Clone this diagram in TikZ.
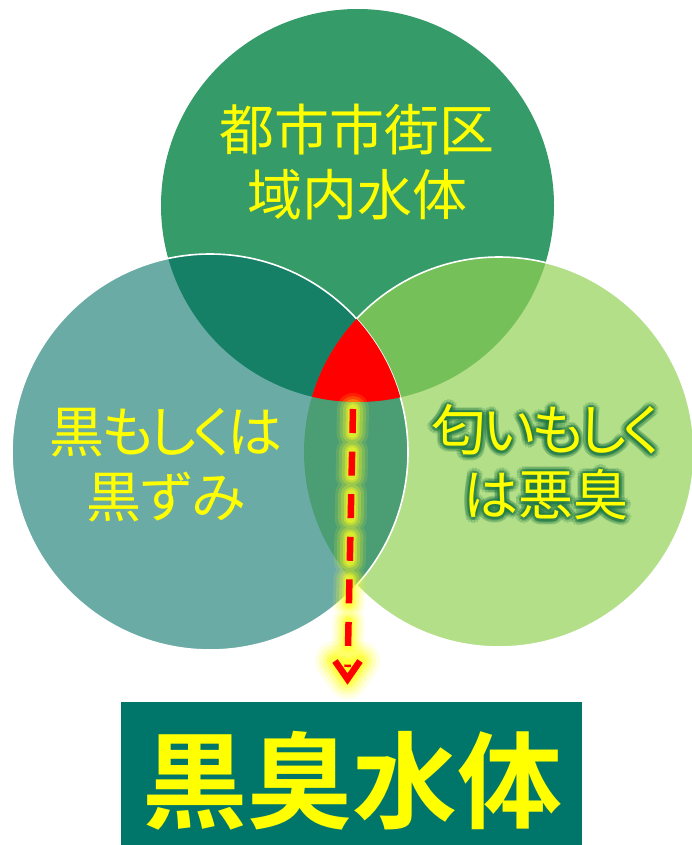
\documentclass[tikz,border=0pt]{standalone}
\usepackage{fontspec}
\newfontfamily\jp[RawFeature=+palt,BoldFont={Noto Sans CJK JP Bold}]{Noto Sans CJK JP}
\usetikzlibrary{arrows.meta}
\definecolor{topc}{RGB}{53,155,105}
\definecolor{leftc}{RGB}{0,110,102}
\definecolor{rightc}{RGB}{146,209,84}
\definecolor{boxc}{RGB}{0,118,106}
\definecolor{txty}{RGB}{255,255,0}
\definecolor{glowc}{RGB}{30,120,70}
\definecolor{arrowy}{RGB}{255,255,30}
\newcommand{\tk}{\kern-3.5pt}
\tikzset{
  ctext/.style={text=txty, align=center, inner sep=0pt, font=\jp\fontsize{55}{65}\selectfont},
  bigcirc/.style={circle, inner sep=0pt},
  whiteline/.style={draw=white, line width=1.6pt},
  dashglow/.style={draw=arrowy, line cap=round, dash pattern=on 24pt off 18.6pt},
  headglow/.style={draw=arrowy, line cap=round, line join=round},
  redline/.style={draw=red, line width=6.5pt},
}
\begin{document}
\begin{tikzpicture}[x=1pt,y=-1pt]
\useasboundingbox (0,0) rectangle (692,845);
% circles
\node[bigcirc, minimum size=393pt, fill=topc] (topcirc) at (357.5,205.5) {};
\node[bigcirc, minimum size=390pt, fill=rightc, fill opacity=0.7] (rightcirc) at (499,452) {};
\node[bigcirc, minimum size=396pt, fill=leftc, fill opacity=0.58, whiteline] (leftcirc) at (210,452) {};
% right circle outline outside the left circle
\begin{scope}[even odd rule]
  \clip (0,0) rectangle (692,845) (210,452) circle[radius=198];
  \draw[white, line width=1.6pt] (499,452) circle[radius=195];
\end{scope}
% triple intersection
\begin{scope}
  \clip (357.5,205.5) circle[radius=196.5];
  \clip (210,452) circle[radius=198];
  \fill[red] (499,452) circle[radius=195];
\end{scope}
% texts
\node[ctext] (toptext) at (357,162.5) {都市市街区\\域内水体};
\node[ctext] (lefttext) at (166,465) {黒\tk も\tk し\tk く\tk は\\黒ずみ};
\foreach \a in {0,30,...,330} {
  \node[ctext, text=glowc, text opacity=0.2, shift={(\a:5.5)}] (rglowA\a) at (546,462.5) {匂\tk い\tk も\tk し\tk く\\は悪臭};
  \node[ctext, text=glowc, text opacity=0.28, shift={(\a:2.5)}] (rglowB\a) at (546,462.5) {匂\tk い\tk も\tk し\tk く\\は悪臭};
}
\node[ctext] (righttext) at (546,462.5) {匂\tk い\tk も\tk し\tk く\\は悪臭};
% bottom box
\node[fill=boxc, minimum width=461pt, minimum height=143pt, inner sep=0pt] (box) at (351.5,773.5) {};
\node[text=txty, inner sep=0pt, font=\jp\bfseries\fontsize{105}{110}\selectfont] (boxtext) at (352,781) {黒臭水体};
% arrow
\coordinate (arrS) at (353,409);
\coordinate (arrM) at (347.6,667);
\coordinate (arrE) at (347.5,679);
\coordinate (headL) at (335,661);
\coordinate (headR) at (360,661);
% glow
\foreach \w/\o in {32/0.12, 26/0.18, 20/0.25, 14/0.35, 10/0.45} {
  \draw[dashglow, line width=\w pt, draw opacity=\o] (arrS) -- (arrM);
}
\foreach \w/\o in {40/0.12, 32/0.18, 25/0.25, 18/0.35, 12/0.45} {
  \draw[headglow, line width=\w pt, draw opacity=\o] (headL) -- (arrE) -- (headR);
}
% red dashed arrow
\draw[redline, dash pattern=on 24pt off 18.6pt] (arrS) -- (arrM);
\draw[redline, line join=miter] (headL) -- (arrE) -- (headR);
\end{tikzpicture}
\end{document}
